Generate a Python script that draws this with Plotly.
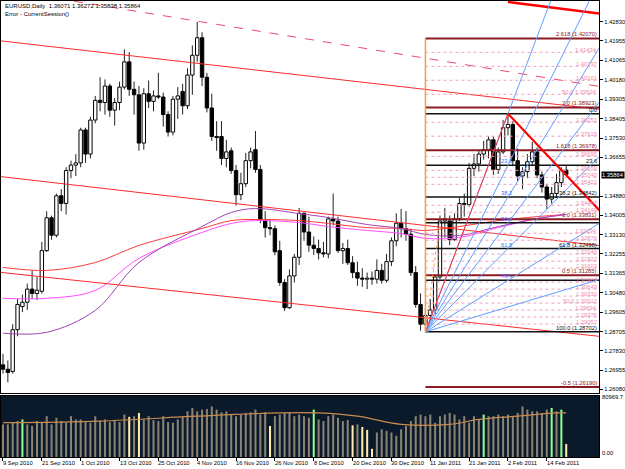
import plotly.graph_objects as go

# ---------------- data ----------------
OPEN = [1.2720, 1.2700, 1.2690, 1.2880, 1.2985, 1.3005, 1.3065, 1.3045, 1.3055, 1.3240,
        1.3390, 1.3310, 1.3490, 1.3455, 1.3605, 1.3630, 1.3640, 1.3790, 1.3680, 1.3835,
        1.3925, 1.3915, 1.3990, 1.3880, 1.3915, 1.3985, 1.4100, 1.3975, 1.3950, 1.3730,
        1.3955, 1.3920, 1.3945, 1.3940, 1.3860, 1.3780, 1.3930, 1.3965, 1.3900, 1.4040,
        1.4130, 1.4210, 1.4030, 1.3890, 1.3760, 1.3760, 1.3660, 1.3695, 1.3605, 1.3495,
        1.3545, 1.3650, 1.3700, 1.3610, 1.3380, 1.3345, 1.3340, 1.3240, 1.3095, 1.2980,
        1.3125, 1.3210, 1.3410, 1.3325, 1.3265, 1.3250, 1.3230, 1.3225, 1.3385, 1.3375,
        1.3240, 1.3250, 1.3185, 1.3140, 1.3115, 1.3110, 1.3115, 1.3110, 1.3150, 1.3105,
        1.3190, 1.3285, 1.3365, 1.3340, 1.3315, 1.3140, 1.2995, 1.2905, 1.2945, 1.2970,
        1.3120, 1.3375, 1.3375, 1.3290, 1.3385, 1.3455, 1.3450, 1.3615, 1.3635, 1.3680,
        1.3700, 1.3745, 1.3610, 1.3690, 1.3800, 1.3815, 1.3650, 1.3580, 1.3600, 1.3645,
        1.3690, 1.3585, 1.3530, 1.3475, 1.3500, 1.3550, 1.36071]
HIGH = [1.2770, 1.2740, 1.2905, 1.3020, 1.3040, 1.3090, 1.3150, 1.3120, 1.3280, 1.3420,
        1.3400, 1.3500, 1.3520, 1.3620, 1.3650, 1.3680, 1.3800, 1.3800, 1.3850, 1.3945,
        1.4030, 1.4020, 1.4000, 1.3935, 1.4010, 1.4157, 1.4145, 1.4010, 1.3990, 1.3980,
        1.4015, 1.3970, 1.4050, 1.3960, 1.3875, 1.3945, 1.3985, 1.4000, 1.4070, 1.4175,
        1.4282, 1.4235, 1.4050, 1.3955, 1.3830, 1.3830, 1.3745, 1.3710, 1.3630, 1.3595,
        1.3685, 1.3710, 1.3785, 1.3630, 1.3420, 1.3385, 1.3355, 1.3285, 1.3110, 1.3155,
        1.3225, 1.3435, 1.3415, 1.3395, 1.3305, 1.3290, 1.3280, 1.3395, 1.3500, 1.3395,
        1.3275, 1.3290, 1.3215, 1.3190, 1.3160, 1.3140, 1.3145, 1.3200, 1.3180, 1.3225,
        1.3300, 1.3410, 1.3430, 1.3420, 1.3340, 1.3170, 1.3045, 1.2980, 1.3020, 1.3130,
        1.3400, 1.3435, 1.3400, 1.3410, 1.3480, 1.3500, 1.3640, 1.3680, 1.3700, 1.3740,
        1.3760, 1.3760, 1.3710, 1.3835, 1.38638, 1.3830, 1.3705, 1.3620, 1.3680, 1.3735,
        1.3710, 1.3600, 1.3545, 1.3530, 1.3590, 1.3620, 1.36272]
LOW = [1.2680, 1.2640, 1.2680, 1.2850, 1.2960, 1.2970, 1.3020, 1.3015, 1.3045, 1.3235,
       1.3290, 1.3300, 1.3420, 1.3405, 1.3570, 1.3580, 1.3620, 1.3640, 1.3660, 1.3820,
       1.3875, 1.3860, 1.3850, 1.3810, 1.3880, 1.3975, 1.3945, 1.3860, 1.3695, 1.3700,
       1.3890, 1.3875, 1.3930, 1.3805, 1.3760, 1.3765, 1.3840, 1.3860, 1.3885, 1.3950,
       1.4100, 1.3990, 1.3870, 1.3740, 1.3695, 1.3630, 1.3620, 1.3590, 1.3445, 1.3470,
       1.3530, 1.3615, 1.3595, 1.3365, 1.3300, 1.3310, 1.3220, 1.3080, 1.2965, 1.2975,
       1.3095, 1.3175, 1.3285, 1.3235, 1.3220, 1.3200, 1.3210, 1.3205, 1.3355, 1.3230,
       1.3180, 1.3175, 1.3115, 1.3080, 1.3075, 1.3065, 1.3085, 1.3090, 1.3090, 1.3095,
       1.3170, 1.3260, 1.3300, 1.3285, 1.3125, 1.2980, 1.2875, 1.28702, 1.2920, 1.2950,
       1.3110, 1.3300, 1.3265, 1.3285, 1.3375, 1.3395, 1.3440, 1.3580, 1.3600, 1.3655,
       1.3660, 1.3585, 1.3590, 1.3680, 1.3765, 1.3625, 1.3555, 1.3520, 1.3570, 1.3625,
       1.3570, 1.3505, 1.3430, 1.3455, 1.3480, 1.3530, 1.35838]
CLOSE = [1.2700, 1.2685, 1.2880, 1.2995, 1.3005, 1.3065, 1.3045, 1.3060, 1.3240, 1.3390,
         1.3310, 1.3490, 1.3455, 1.3605, 1.3630, 1.3640, 1.3790, 1.3680, 1.3835, 1.3925,
         1.3915, 1.3990, 1.3880, 1.3915, 1.3985, 1.4100, 1.3975, 1.3950, 1.3730, 1.3955,
         1.3920, 1.3945, 1.3940, 1.3860, 1.3780, 1.3930, 1.3945, 1.3900, 1.4040, 1.4130,
         1.4210, 1.4030, 1.3890, 1.3760, 1.3755, 1.3660, 1.3690, 1.3605, 1.3495, 1.3545,
         1.3650, 1.3690, 1.3610, 1.3380, 1.3345, 1.3340, 1.3235, 1.3095, 1.2980, 1.3125,
         1.3210, 1.3410, 1.3325, 1.3265, 1.3250, 1.3230, 1.3225, 1.3385, 1.3375, 1.3240,
         1.3250, 1.3185, 1.3140, 1.3115, 1.3110, 1.3115, 1.3110, 1.3150, 1.3105, 1.3190,
         1.3285, 1.3365, 1.3340, 1.3315, 1.3140, 1.2995, 1.2905, 1.2945, 1.2970, 1.3120,
         1.3375, 1.3385, 1.3290, 1.3385, 1.3455, 1.3450, 1.3615, 1.3635, 1.3680, 1.3700,
         1.3745, 1.3610, 1.3690, 1.3800, 1.3815, 1.3650, 1.3580, 1.3600, 1.3645, 1.3690,
         1.3585, 1.3530, 1.3475, 1.3500, 1.3550, 1.3607, 1.35864]
VOLUME = [44200, 44200, 46500, 48700, 50900, 44200, 42000, 48700, 47300, 55300,
          44200, 53100, 48700, 46500, 55300, 50900, 50900, 47300, 46500, 55300,
          48700, 50900, 47300, 50000, 47300, 57500, 54400, 55300, 59700, 50900,
          55300, 50000, 48700, 55300, 47300, 46500, 50900, 55300, 61900, 66400,
          61900, 64200, 65000, 68600, 64200, 60600, 61900, 57500, 55300, 57500,
          59700, 60600, 64200, 57500, 60600, 42000, 55300, 57500, 59700, 60600,
          55300, 57500, 55300, 53100, 64200, 50900, 48700, 55300, 57500, 53100,
          48700, 50000, 42900, 44200, 40700, 36700, 11100, 33200, 37600, 35400,
          33200, 28800, 37600, 42000, 48700, 55300, 57500, 55300, 57500, 46500,
          55300, 57500, 59700, 57500, 50900, 55300, 46500, 55300, 50900, 57500,
          55300, 55300, 57500, 55300, 57500, 55300, 59700, 68600, 64200, 61900,
          61900, 59700, 64200, 66400, 61900, 64200, 17700]
GREEN_BARS = [4, 64, 99, 113, 115]
YELLOW_BARS = [26, 28, 55, 72, 74, 75, 76, 116]
VOL_MA_IDX = [0, 20, 40, 57, 65, 73, 82, 92, 98, 106, 114, 116]
VOL_MA = [46500, 48700, 55300, 59700, 59700, 55300, 44200, 44200, 50900, 55300, 59700, 59700]

TICK_IDX = [0, 8, 16, 24, 32, 40, 48, 56, 64, 72, 80, 88, 96, 104, 112]
TICK_LABELS = ["9 Sep 2010", "21 Sep 2010", "1 Oct 2010", "13 Oct 2010", "25 Oct 2010",
               "4 Nov 2010", "16 Nov 2010", "26 Nov 2010", "8 Dec 2010", "20 Dec 2010",
               "30 Dec 2010", "11 Jan 2011", "21 Jan 2011", "2 Feb 2011", "14 Feb 2011"]
PRICE_TICKS = [1.42830, 1.41955, 1.41065, 1.40180, 1.39305, 1.38405, 1.37530, 1.36655,
               1.34880, 1.34005, 1.33130, 1.32255, 1.31365, 1.30480, 1.29605, 1.28705,
               1.27830, 1.26955, 1.26080]

# moving averages (bar index, price)
MA_IDX = [0, 9, 19, 28, 41, 47, 52, 61, 67, 75, 82, 87, 94, 102, 110, 116]
MA_PURPLE = [1.2864, 1.2868, 1.2968, 1.3186, 1.3350, 1.3414, 1.3432, 1.3409, 1.3391, 1.3359,
             1.3341, 1.3314, 1.3309, 1.3350, 1.3386, 1.3405]
MA_MAGENTA = [1.3023, 1.3023, 1.3059, 1.3205, 1.3323, 1.3364, 1.3377, 1.3368, 1.3350, 1.3332,
              1.3318, 1.3296, 1.3300, 1.3345, 1.3386, 1.3405]
MA_RED = [1.3164, 1.3150, 1.3186, 1.3264, 1.3341, 1.3377, 1.3382, 1.3377, 1.3364, 1.3345,
          1.3341, 1.3332, 1.3350, 1.3377, 1.3395, 1.3405]

# trend lines: (start index, start price, end index, end price)
CHANNEL_LINES = [(-1, 1.41970, 124, 1.38810),
                 (-1, 1.35788, 124, 1.32605),
                 (-1, 1.31423, 124, 1.28470)]
DASHED_LINE = (0, 1.4429, 124, 1.3984)
THICK_TOP_LINE = (104, 1.4373, 124, 1.4317)
DOWN_TREND = (104, 1.38638, 123, 1.3420)

# Fibonacci tools
FIB_A_IDX, FIB_B_IDX = 87, 104
RET_LOW, RET_HIGH = 1.28702, 1.38638
RET_LEVELS = [0.0, 23.6, 38.2, 50.0, 61.8, 76.4, 100.0]
RET_RIGHT_TEXT = ["0.0", "23.6", "38.2 (1.34842)", "", "61.8 (1.32498)", "", "100.0 (1.28702)"]
FAN_LEVELS = [0.0, 23.6, 38.2, 50.0, 61.8, 76.4, 88.6]
FAN_LABELS = [23.6, 38.2, 50.0, 61.8, 76.4]
EXP_PRICES = [1.42070, 1.38923, 1.36978, 1.33831, 1.31285, 1.26190]
EXP_TEXT = ["2.618 (1.42070)", "2.0 (1.38923)", "1.618 (1.36978)", "1.0 (1.33831)",
            "0.5 (1.31285)", "-0.5 (1.26190)"]
EXP_B_PRICE = 1.33794
FIB_GRID = [1.41434, 1.40797, 1.40161, 1.39524, 1.38251, 1.37615, 1.36695,
            1.36059, 1.35740, 1.35422, 1.34467, 1.34149,
            1.33194, 1.32876, 1.32240, 1.31922, 1.31603, 1.30967, 1.30649,
            1.30330, 1.30012, 1.29694, 1.29376, 1.29057]
FIB_GRID_PREFIX = {1.39524: "50.0 ", 1.30012: "50.0 "}

X_RANGE = [-0.41, 122.75]
Y_RANGE = [1.25909, 1.43773]
V_RANGE = [0, 82500]

FONT = "Liberation Sans"
FS = 5.8

N = len(CLOSE)
IDX = list(range(N))
fig = go.Figure()

# ---------------- volume panel ----------------
vcol = []
for i in IDX:
    if i in GREEN_BARS:
        vcol.append("#8cff8c")
    elif i in YELLOW_BARS:
        vcol.append("#ffecaa")
    else:
        vcol.append("#8a8272")
fig.add_bar(x=IDX, y=VOLUME, xaxis="x2", yaxis="y2", width=0.42,
            marker=dict(color=vcol, line=dict(width=0)), hoverinfo="skip")
fig.add_scatter(x=VOL_MA_IDX, y=VOL_MA, xaxis="x2", yaxis="y2", mode="lines",
                line=dict(color="#c98a4e", width=1.2, shape="spline"), hoverinfo="skip")

# ---------------- candles ----------------
base, height, bcol = [], [], []
wx, wy = [], []
for i in IDX:
    o, h, l, c = OPEN[i], HIGH[i], LOW[i], CLOSE[i]
    top, bot = max(o, c), min(o, c)
    base.append(bot)
    height.append(max(top - bot, 0.00006))
    bcol.append("white" if c >= o else "black")
    wx += [i, i, None, i, i, None]
    wy += [h, top, None, bot, l, None]
fig.add_bar(x=IDX, y=height, base=base, width=0.7, xaxis="x", yaxis="y",
            marker=dict(color=bcol, line=dict(color="black", width=1)), hoverinfo="skip")
fig.add_scatter(x=wx, y=wy, mode="lines", line=dict(color="#222222", width=1), hoverinfo="skip")


def seg(x0, y0, x1, y1, color, width=1, dash=None):
    fig.add_scatter(x=[x0, x1], y=[y0, y1], mode="lines", hoverinfo="skip",
                    line=dict(color=color, width=width, dash=dash))


# moving averages
for vals, col in ((MA_RED, "#ff3a3a"), (MA_MAGENTA, "#ff4dff"), (MA_PURPLE, "#a044b4")):
    fig.add_scatter(x=MA_IDX, y=vals, mode="lines", hoverinfo="skip",
                    line=dict(color=col, width=1, shape="spline"))

# channels
for (a, pa, b, pb) in CHANNEL_LINES:
    seg(a, pa, b, pb, "#ff2a2a", 1)
seg(*DASHED_LINE, "#ee4a6a", 1, "dash")
seg(*THICK_TOP_LINE, "#ff0000", 2.5)

# fibonacci grid (pink dotted)
RIGHT = X_RANGE[1] - 0.3
for p in FIB_GRID:
    seg(FIB_A_IDX, p, RIGHT + 1, p, "#f2a0bd", 1, "dot")

# expansion levels (maroon)
for p in EXP_PRICES:
    seg(FIB_A_IDX, p, RIGHT + 1, p, "#8c1c24", 2)
# retracement levels (black)
for lv in RET_LEVELS:
    p = RET_HIGH - lv / 100.0 * (RET_HIGH - RET_LOW)
    seg(FIB_A_IDX, p, RIGHT + 1, p, "#111111", 1.5)

# fan lines
FAN_END = 126
for lv in FAN_LEVELS:
    pb = RET_HIGH - lv / 100.0 * (RET_HIGH - RET_LOW)
    pe = RET_LOW + (pb - RET_LOW) * (FAN_END - FIB_A_IDX) / (FIB_B_IDX - FIB_A_IDX)
    seg(FIB_A_IDX, RET_LOW, FAN_END, pe, "#5f9dff", 1)

# trend from low to high and downtrend
seg(FIB_A_IDX, RET_LOW, FIB_B_IDX, RET_HIGH, "#ff3030", 1)
seg(*DOWN_TREND, "#ff0000", 2.2)
# orange vertical and leg of expansion
seg(FIB_A_IDX, RET_LOW, FIB_A_IDX, EXP_PRICES[0], "#ff9a40", 1.5)
seg(FIB_A_IDX, RET_LOW, FIB_A_IDX + 3, EXP_B_PRICE, "#ffa040", 1, "dot")

# ---------------- annotations ----------------
ann = []


def txt(x, y, s, color="black", xanchor="right", yanchor="bottom", size=FS, xref="x", yref="y",
        xshift=0, yshift=0, bg=None):
    d = dict(x=x, y=y, xref=xref, yref=yref, text=s, showarrow=False, xanchor=xanchor,
             yanchor=yanchor, xshift=xshift, yshift=yshift, borderpad=0,
             font=dict(family=FONT, size=size, color=color))
    if bg:
        d["bgcolor"] = bg
    ann.append(d)


for p in FIB_GRID:
    txt(RIGHT, p, FIB_GRID_PREFIX.get(p, "") + f"{p:.5f}", color="#f08cb0", yshift=-2)
for p, s in zip(EXP_PRICES, EXP_TEXT):
    txt(RIGHT, p, s, color="#8c1c24", yshift=0)
for lv, s in zip(RET_LEVELS, RET_RIGHT_TEXT):
    if s:
        p = RET_HIGH - lv / 100.0 * (RET_HIGH - RET_LOW)
        txt(RIGHT, p, s, color="#111111", yshift=0)
for lv in FAN_LABELS:
    p = RET_HIGH - lv / 100.0 * (RET_HIGH - RET_LOW)
    txt(FIB_B_IDX - 0.3, p, f"{lv:.1f}", color="#3f6fff", xanchor="center", yshift=0)

# title
txt(0, 1, "EURUSD,Daily  1.36071 1.36272 1.35838 1.35864", xanchor="left", yanchor="top",
    xref="paper", yref="paper", xshift=3, yshift=-1, size=6)
txt(0, 1, "Error - CurrentSession()", xanchor="left", yanchor="top",
    xref="paper", yref="paper", xshift=3, yshift=-9, size=6)

# current price label
txt(1, CLOSE[-1], f"{CLOSE[-1]:.5f}", color="white", xanchor="left", yanchor="middle",
    xref="paper", yref="y", xshift=2, bg="black")

# dates
for i, s in zip(TICK_IDX, TICK_LABELS):
    txt(i, 0, s, xanchor="left", yanchor="top", xref="x2", yref="paper", xshift=-1, yshift=-2)

# volume scale labels
txt(1, 80969.7, "80969.7", xanchor="left", yanchor="middle", xref="paper", yref="y2", xshift=2)
txt(1, 0, "0.00", xanchor="left", yanchor="bottom", xref="paper", yref="y2", xshift=2)

fig.update_layout(
    width=625, height=469,
    margin=dict(l=0, r=24, t=0, b=12),
    paper_bgcolor="white", plot_bgcolor="white",
    showlegend=False, barmode="overlay",
    annotations=ann,
    shapes=[dict(type="rect", xref="x2 domain", yref="y2 domain", x0=0, x1=1, y0=0, y1=1,
                 fillcolor="#0b1a2b", line=dict(width=0), layer="below")],
    xaxis=dict(domain=[0, 1], range=X_RANGE, anchor="y", showticklabels=False, showgrid=False,
               zeroline=False, showline=True, mirror=True, linecolor="black", linewidth=1),
    yaxis=dict(domain=[0.140, 1], range=Y_RANGE, side="right", tickvals=PRICE_TICKS,
               ticktext=[f"{v:.5f}" for v in PRICE_TICKS], ticks="outside", ticklen=3,
               tickcolor="black", showgrid=False, zeroline=False, showline=True, mirror=True,
               linecolor="black", linewidth=1, tickfont=dict(family=FONT, size=FS, color="black")),
    xaxis2=dict(domain=[0, 1], range=X_RANGE, anchor="y2", matches="x", tickvals=TICK_IDX,
                showticklabels=False, ticks="outside", ticklen=3, tickcolor="black",
                showgrid=False, zeroline=False, showline=True, mirror=True, linecolor="black",
                linewidth=1),
    yaxis2=dict(domain=[0, 0.1335], range=V_RANGE, side="right", showticklabels=False,
                showgrid=False, zeroline=False, showline=True, mirror=True, linecolor="black",
                linewidth=1),
)

fig.write_html("out.html")
